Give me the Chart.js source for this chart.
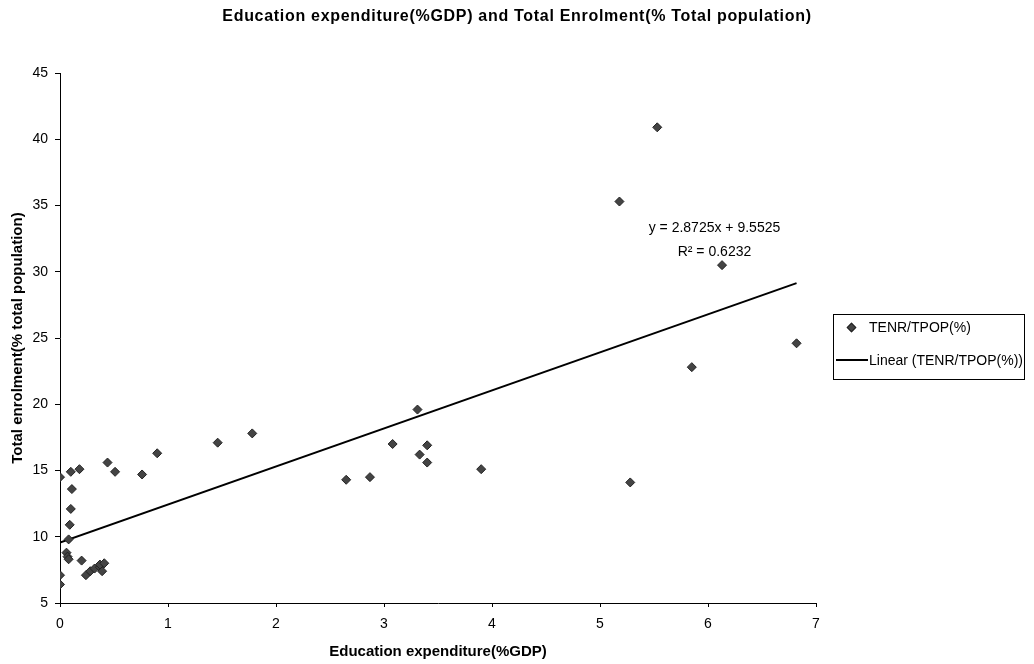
<!DOCTYPE html>
<html lang="en">
<head>
  <meta charset="UTF-8" />
  <title>Education expenditure and Total Enrolment</title>
  <script src="https://cdn.jsdelivr.net/npm/chart.js"></script>
  <style>
    body {
      margin: 0;
      background: #fff;
      font-family: 'Liberation Sans', Arial, sans-serif;
    }

    .wrap {
      position: relative;
      width: 1034px;
      height: 664px;
    }

    .legend {
      position: absolute;
      left: 833px;
      top: 314px;
      width: 192px;
      height: 66px;
      border: 1px solid #000;
      font-size: 14px;
      color: #000;
      box-sizing: border-box;
    }

    .legend-row {
      position: absolute;
      left: 0;
      display: flex;
      align-items: center;
      white-space: nowrap;
    }

    .legend-row .mark {
      width: 35px;
      display: flex;
      justify-content: center;
      align-items: center;
    }

    .diamond {
      width: 5px;
      height: 5px;
      background: #444;
      border: 1px solid #222;
      transform: rotate(45deg);
    }

    .line {
      width: 32px;
      height: 2px;
      background: #000;
    }
  </style>
</head>
<body>
  <div class="wrap">
    <canvas id="chart" width="1034" height="664"></canvas>
    <div class="legend">
      <div class="legend-row" style="top:4px"><div class="mark"><div class="diamond"></div></div><span>TENR/TPOP(%)</span></div>
      <div class="legend-row" style="top:37px"><div class="mark"><div class="line"></div></div><span>Linear (TENR/TPOP(%))</span></div>
    </div>
  </div>

  <script>
    // Education expenditure (%GDP)
    const eduExp = [
      0.00, 0.10, 0.18, 0.44, 0.51, 0.76, 0.90, 1.46, 0.11, 0.10,
      0.09, 0.08, 0.06, 0.07, 0.08, 0.20, 0.00, 0.00, 0.24, 0.28,
      0.32, 0.37, 0.39, 0.37, 0.41, 1.78, 3.31, 3.08, 3.40, 3.33,
      3.40, 2.65, 2.87, 3.90, 5.18, 5.53, 6.13, 5.85, 5.28, 6.82
    ];
    // Total enrolment (% total population)
    const enrolment = [
      14.5, 14.9, 15.1, 15.6, 14.9, 14.7, 16.3, 17.1, 13.6, 12.1,
      10.9, 9.8, 8.8, 8.5, 8.3, 8.2, 7.1, 6.4, 7.1, 7.4,
      7.6, 7.7, 7.4, 7.9, 8.0, 17.8, 19.6, 17.0, 16.9, 16.2,
      15.6, 14.3, 14.5, 15.1, 35.3, 40.9, 30.5, 22.8, 14.1, 24.6
    ];

    // linear trend line ends
    const trendX = [0, 6.82];
    const trendY = [9.5525, 29.1429];

    const xTicks = [0, 1, 2, 3, 4, 5, 6, 7];
    const yTicks = [5, 10, 15, 20, 25, 30, 35, 40, 45];

    const chartTitle = 'Education expenditure(%GDP) and Total Enrolment(% Total population)';
    const eqLines = ['y = 2.8725x + 9.5525', 'R² = 0.6232'];

    const points = eduExp.map((x, i) => ({ x: x, y: enrolment[i] }));
    const trend = trendX.map((x, i) => ({ x: x, y: trendY[i] }));

    const FONT = "'Liberation Sans', Arial, sans-serif";

    // title over the whole chart + equation text by the trend line
    const textPlugin = {
      id: 'texts',
      afterDraw(chart) {
        const { ctx, scales, width } = chart;
        ctx.save();
        ctx.fillStyle = '#000';
        ctx.textAlign = 'center';
        ctx.textBaseline = 'middle';

        ctx.font = 'bold 16px ' + FONT;
        ctx.letterSpacing = '0.7px';
        ctx.fillText(chartTitle, width / 2, 17);

        ctx.letterSpacing = '0px';
        ctx.font = '14px ' + FONT;
        ctx.fillText(eqLines[0], scales.x.getPixelForValue(6.06), scales.y.getPixelForValue(33.3));
        ctx.fillText(eqLines[1], scales.x.getPixelForValue(6.06), scales.y.getPixelForValue(31.5));
        ctx.restore();
      }
    };

    new Chart(document.getElementById('chart'), {
      type: 'scatter',
      data: {
        datasets: [
          {
            label: 'TENR/TPOP(%)',
            data: points,
            pointStyle: 'rectRot',
            pointRadius: 4.5,
            backgroundColor: '#444',
            borderColor: '#222',
            borderWidth: 1
          },
          {
            label: 'Linear (TENR/TPOP(%))',
            type: 'line',
            data: trend,
            borderColor: '#000',
            borderWidth: 2,
            pointRadius: 0,
            fill: false
          }
        ]
      },
      options: {
        responsive: false,
        animation: false,
        layout: { padding: { left: 0, right: 218, top: 73, bottom: 0 } },
        scales: {
          x: {
            type: 'linear',
            min: 0,
            max: 7,
            afterBuildTicks: (s) => { s.ticks = xTicks.map(v => ({ value: v })); },
            afterFit: (s) => { s.height = 61; },
            ticks: { color: '#000', font: { family: FONT, size: 14 }, padding: 9, maxRotation: 0 },
            grid: { drawOnChartArea: false, drawTicks: true, tickLength: 4, color: '#000' },
            border: { color: '#000', width: 1 },
            title: {
              display: true,
              text: 'Education expenditure(%GDP)',
              color: '#000',
              font: { family: FONT, size: 15, weight: 'bold' },
              padding: { top: 0, bottom: 3 }
            }
          },
          y: {
            min: 5,
            max: 45,
            afterBuildTicks: (s) => { s.ticks = yTicks.map(v => ({ value: v })); },
            afterFit: (s) => { s.width = 60; },
            ticks: { color: '#000', font: { family: FONT, size: 14 }, padding: 7 },
            grid: { drawOnChartArea: false, drawTicks: true, tickLength: 5, color: '#000' },
            border: { color: '#000', width: 1 },
            title: {
              display: true,
              text: 'Total enrolment(% total population)',
              color: '#000',
              font: { family: FONT, size: 15, weight: 'bold' },
              padding: { top: 9, bottom: 0 }
            }
          }
        },
        plugins: {
          legend: { display: false },
          tooltip: { enabled: false },
          title: { display: false }
        }
      },
      plugins: [textPlugin]
    });
  </script>
</body>
</html>
